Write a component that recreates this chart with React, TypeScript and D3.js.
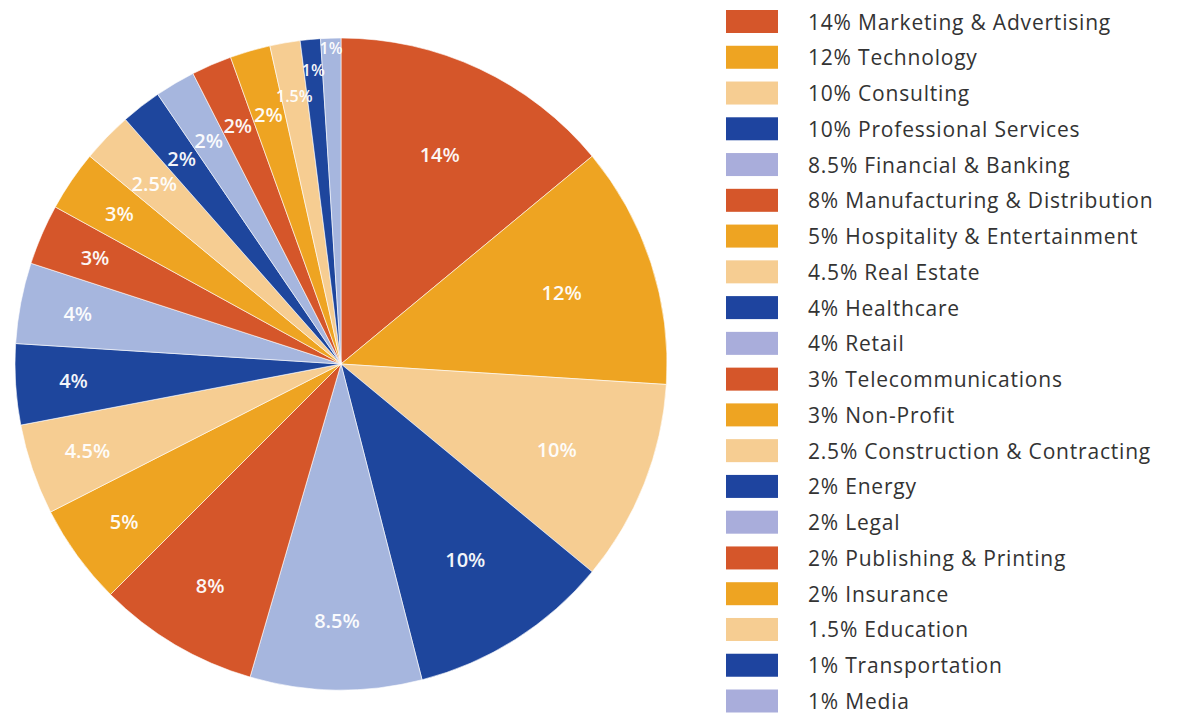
import React from "react";
import * as d3 from "d3";

const categories = [
  "Marketing & Advertising",
  "Technology",
  "Consulting",
  "Professional Services",
  "Financial & Banking",
  "Manufacturing & Distribution",
  "Hospitality & Entertainment",
  "Real Estate",
  "Healthcare",
  "Retail",
  "Telecommunications",
  "Non-Profit",
  "Construction & Contracting",
  "Energy",
  "Legal",
  "Publishing & Printing",
  "Insurance",
  "Education",
  "Transportation",
  "Media",
];
const values = [14, 12, 10, 10, 8.5, 8, 5, 4.5, 4, 4, 3, 3, 2.5, 2, 2, 2, 2, 1.5, 1, 1];
const palette = ["#D5562A", "#EEA422", "#F6CD92", "#1E469D", "#A6B6DE"];
const legendPalette = ["#D5562A", "#EEA422", "#F6CD92", "#1E449F", "#A9ADDB"];

const W = 1186;
const H = 716;
const cx = 341;
const cy = 364;
const R = 326;

function labelRadius(v: number, i: number, n: number) {
  if (i === n - 1) return 316;
  if (v >= 10) return 232;
  if (v >= 8) return 257;
  if (v >= 3) return 268;
  if (v >= 2) return 260;
  if (v >= 1.5) return 272;
  return 295;
}

export default function App() {
  const items = categories.map((c, i) => ({ name: c, value: values[i], i }));
  const pie = d3
    .pie<any>()
    .value((d) => d.value)
    .sort(null)
    .startAngle(0)
    .endAngle(2 * Math.PI);
  const arcs = pie(items);
  const arc = d3.arc<any>().innerRadius(0).outerRadius(R);
  const legendY = d3.scaleLinear().domain([0, categories.length - 1]).range([21.5, 701]);

  return (
    <svg
      width={W}
      height={H}
      style={{ position: "absolute", left: 0, top: 0, background: "#fff" }}
      fontFamily="'Open Sans', 'Noto Sans', sans-serif"
    >
      <g transform={`translate(${cx},${cy})`}>
        {arcs.map((a, k) => (
          <path key={k} d={arc(a) || ""} fill={palette[a.data.i % 5]} stroke="#fff" strokeWidth={0.6} />
        ))}
        {arcs.map((a, k) => {
          const mid = (a.startAngle + a.endAngle) / 2;
          const r = labelRadius(a.data.value, a.data.i, arcs.length);
          const x = r * Math.sin(mid);
          const y = -r * Math.cos(mid);
          return (
            <text
              key={"l" + k}
              x={x}
              y={y}
              textAnchor="middle"
              dominantBaseline="central"
              fill="#fff"
              fontSize={a.data.value < 2 ? 16 : 20}
              fontWeight={600}
              opacity={0.95}
            >
              {a.data.value + "%"}
            </text>
          );
        })}
      </g>
      <g>
        {items.map((d, i) => (
          <g key={i} transform={`translate(0,${legendY(i)})`}>
            <rect x={726} y={-11.5} width={52} height={23} fill={legendPalette[i % 5]} />
            <text
              x={808}
              y={0}
              dominantBaseline="central"
              fontSize={21}
              letterSpacing={0.8}
              fill="#333"
            >
              {d.value + "% " + d.name}
            </text>
          </g>
        ))}
      </g>
    </svg>
  );
}
